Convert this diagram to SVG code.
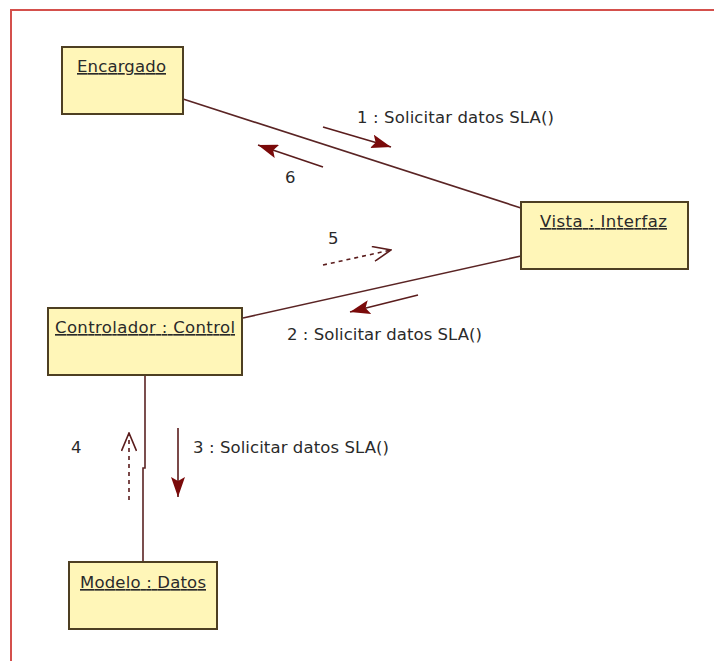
<svg xmlns="http://www.w3.org/2000/svg" width="714" height="661" viewBox="0 0 714 661">
  <style>
    .frame { fill: none; stroke: #d4504c; stroke-width: 2; }
    .obj rect { fill: #fff6b8; stroke: #4e3f22; stroke-width: 2; }
    .obj text { font-family: "DejaVu Sans", "Liberation Sans", sans-serif; font-size: 16.5px; fill: #2a2a2a; text-decoration: underline; }
    .link { stroke: #5a2424; stroke-width: 1.6; fill: none; }
    .msg { stroke: #5a1c1c; stroke-width: 1.6; fill: none; }
    .ret { stroke: #5a1c1c; stroke-width: 1.6; fill: none; stroke-dasharray: 4 4; }
    .lbl { font-family: "DejaVu Sans", "Liberation Sans", sans-serif; font-size: 16.5px; fill: #2a2a2a; }
  </style>
  <defs>
    <marker id="solidHead" markerUnits="userSpaceOnUse" viewBox="0 0 20 14" refX="20" refY="7" markerWidth="20" markerHeight="14" orient="auto">
      <path d="M0,0 L20,7 L0,14 L4,7 Z" fill="#7a0a0a"/>
    </marker>
    <marker id="openHead" markerUnits="userSpaceOnUse" viewBox="0 0 20 16" refX="19" refY="8" markerWidth="20" markerHeight="16" orient="auto">
      <path d="M1,0.5 L19,8 L1,15.5" fill="none" stroke="#5a1c1c" stroke-width="1.6"/>
    </marker>
  </defs>

  <rect width="714" height="661" fill="#ffffff"/>
  <!-- page frame: only top and left edges fall inside the view -->
  <rect class="frame" x="11" y="10" width="720" height="680"/>

  <!-- links and messages -->
  <g id="connectors">
    <line class="link" x1="183" y1="99" x2="521" y2="208"/>
    <line class="link" x1="243" y1="318" x2="521" y2="256"/>
    <polyline class="link" points="145,375 145,468 143,468 143,562"/>

    <line class="msg" x1="323" y1="127" x2="391" y2="147" marker-end="url(#solidHead)"/>
    <line class="msg" x1="323" y1="167" x2="258" y2="145" marker-end="url(#solidHead)"/>
    <line class="msg" x1="418" y1="295" x2="350" y2="312" marker-end="url(#solidHead)"/>
    <line class="msg" x1="178" y1="428" x2="178" y2="497" marker-end="url(#solidHead)"/>
    <line class="ret" x1="129" y1="500" x2="129" y2="433" marker-end="url(#openHead)"/>
    <line class="ret" x1="323" y1="265" x2="391" y2="250" marker-end="url(#openHead)"/>

    <text class="lbl" x="357" y="123" textLength="197">1 : Solicitar datos SLA()</text>
    <text class="lbl" x="285" y="183">6</text>
    <text class="lbl" x="328" y="244">5</text>
    <text class="lbl" x="287" y="340" textLength="195">2 : Solicitar datos SLA()</text>
    <text class="lbl" x="193" y="453" textLength="196">3 : Solicitar datos SLA()</text>
    <text class="lbl" x="71" y="453">4</text>
  </g>

  <g id="encargado" class="obj">
    <rect x="62" y="47" width="121" height="67"/>
    <text x="77" y="72" textLength="89">Encargado</text>
  </g>

  <g id="vista" class="obj">
    <rect x="521" y="202" width="167" height="67"/>
    <text x="540" y="227" textLength="127">Vista : Interfaz</text>
  </g>

  <g id="controlador" class="obj">
    <rect x="48" y="308" width="194" height="67"/>
    <text x="55" y="333" textLength="180">Controlador : Control</text>
  </g>

  <g id="modelo" class="obj">
    <rect x="69" y="562" width="148" height="67"/>
    <text x="80" y="588" textLength="126">Modelo : Datos</text>
  </g>
</svg>
